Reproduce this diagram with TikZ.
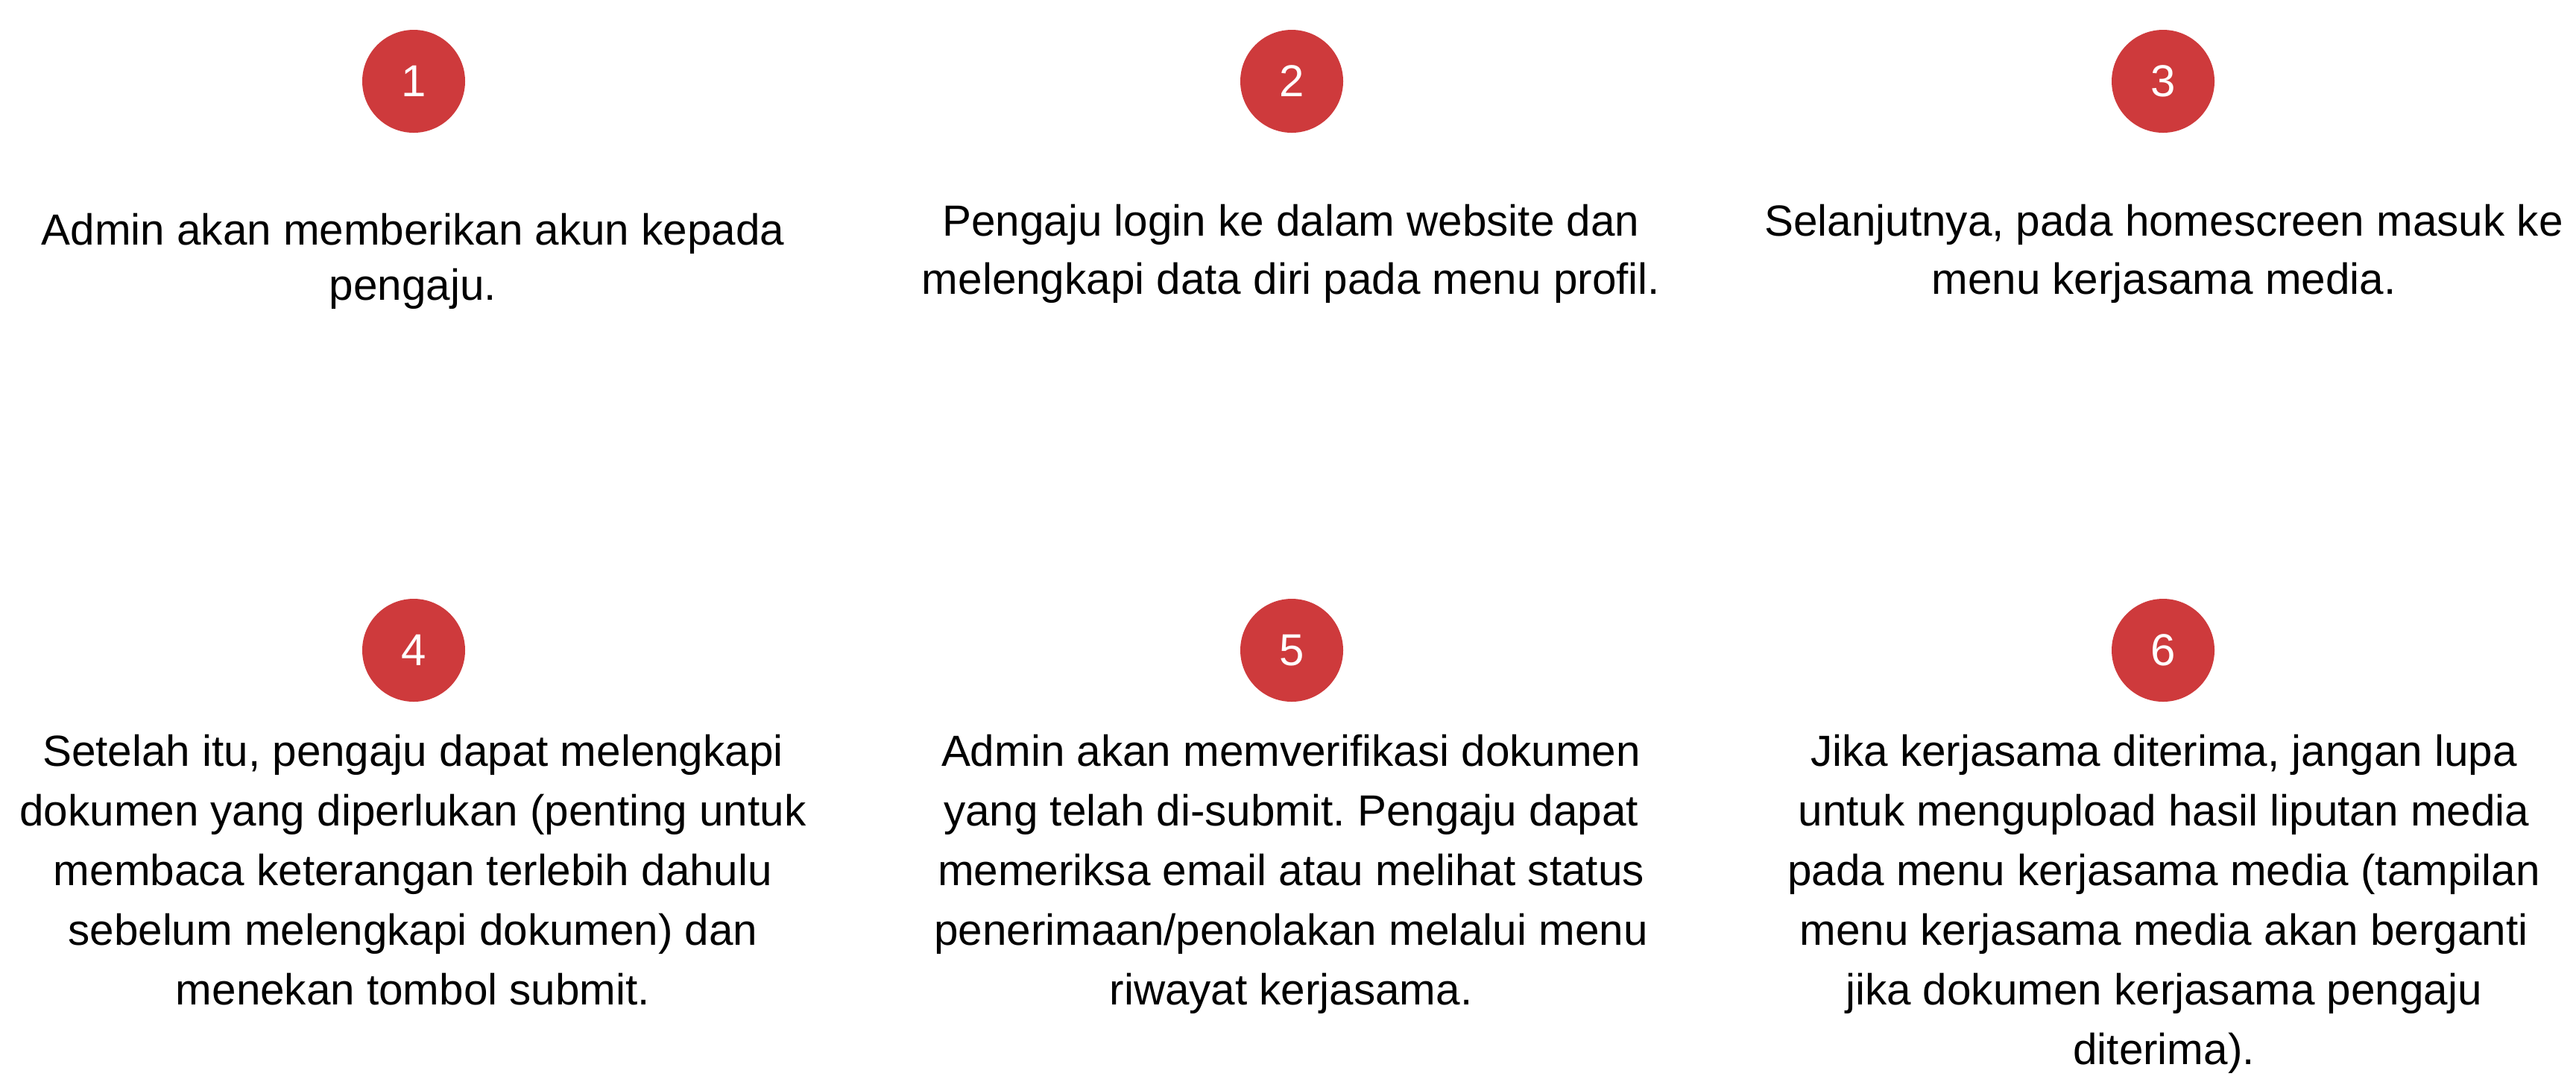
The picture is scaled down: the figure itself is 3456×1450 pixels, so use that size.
\documentclass[tikz,border=0pt]{standalone}
\usepackage{fontspec}
\setmainfont{Liberation Sans}
\frenchspacing
\definecolor{stepred}{RGB}{206,58,60}
\tikzset{
  badge/.style={circle, fill=stepred, draw=none, minimum size=34.5pt, inner sep=0pt,
    text=white, font=\fontsize{15}{18}\selectfont},
  desc/.style={anchor=base, inner sep=0pt, text=black}
}
\newcommand{\stepblock}[2]{{\fontsize{14.6}{#1}\selectfont\frenchspacing\setlength{\tabcolsep}{0pt}\renewcommand{\arraystretch}{1}\begin{tabular}[t]{c}#2\end{tabular}}}
\begin{document}
\begin{tikzpicture}[x=0.25pt,y=-0.25pt]
\useasboundingbox (0,0) rectangle (3456,1450);
\node[badge] (c1) at (555,109) {1};
\node[badge] (c2) at (1733,109) {2};
\node[badge] (c3) at (2902,109) {3};
\node[badge] (c4) at (555,872) {4};
\node[badge] (c5) at (1733,872) {5};
\node[badge] (c6) at (2902,872) {6};
\node[desc] (t1) at (554,328) {\stepblock{18.5pt}{Admin akan memberikan akun kepada\\pengaju.}};
\node[desc] (t2) at (1732,316) {\stepblock{19.5pt}{Pengaju login ke dalam website dan\\melengkapi data diri pada menu profil.}};
\node[desc] (t3) at (2903,316) {\stepblock{19.5pt}{Selanjutnya, pada homescreen masuk ke\\menu kerjasama media.}};
\node[desc] (t4) at (554,1027) {\stepblock{20pt}{Setelah itu, pengaju dapat melengkapi\\dokumen yang diperlukan (penting untuk\\membaca keterangan terlebih dahulu\\sebelum melengkapi dokumen) dan\\menekan tombol submit.}};
\node[desc] (t5) at (1732,1027) {\stepblock{20pt}{Admin akan memverifikasi dokumen\\yang telah di-submit. Pengaju dapat\\memeriksa email atau melihat status\\penerimaan/penolakan melalui menu\\riwayat kerjasama.}};
\node[desc] (t6) at (2903,1027) {\stepblock{20pt}{Jika kerjasama diterima, jangan lupa\\untuk mengupload hasil liputan media\\pada menu kerjasama media (tampilan\\menu kerjasama media akan berganti\\jika dokumen kerjasama pengaju\\diterima).}};
\end{tikzpicture}
\end{document}
